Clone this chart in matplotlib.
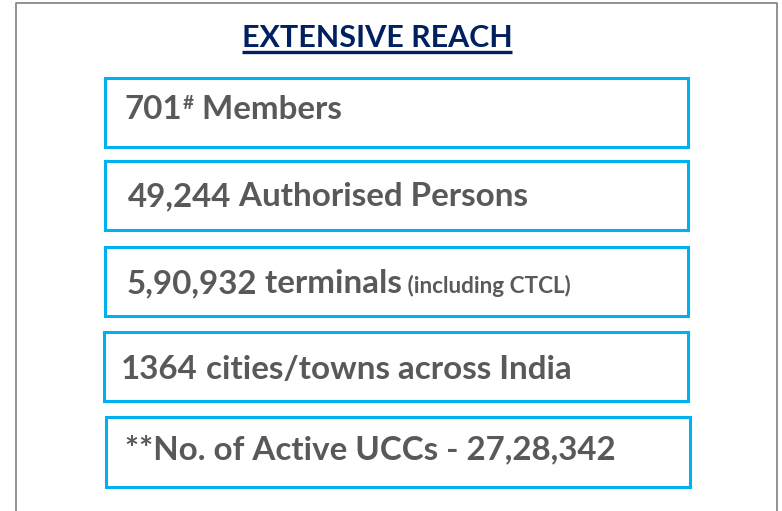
import matplotlib
matplotlib.use("Agg")
from matplotlib import pyplot as plt
from matplotlib.patches import Rectangle
from matplotlib import font_manager as fm

# panel content
title = "EXTENSIVE REACH"
figures = ["701", "49,244", "5,90,932", "1364", "**No. of Active UCCs - 27,28,342"]
marks = ["#", "", "", "", ""]
labels = [" Members", " Authorised Persons", " terminals", " cities/towns across India", ""]
notes = ["", "", " (including CTCL)", "", ""]

W, H = 782, 511
navy = "#002060"
blue = "#00B0F0"
grey = "#595959"

font = "DejaVu Sans"
for name in ["Liberation Sans Narrow", "Lato", "Open Sans"]:
    try:
        fm.findfont(fm.FontProperties(family=name, weight="bold"), fallback_to_default=False)
        font = name
        break
    except Exception:
        pass

fig = plt.figure(figsize=(W / 100, H / 100), dpi=100)
ax = fig.add_axes([0, 0, 1, 1])
ax.set_xlim(0, W)
ax.set_ylim(H, 0)
ax.axis("off")
r = fig.canvas.get_renderer()


def width_of(s, size):
    t = ax.text(0, 0, s, fontsize=size, fontweight="bold", family=font)
    w = t.get_window_extent(r).width
    t.remove()
    return w


# pick sizes so the longest line and the title span what they do in the slide
body = 22 * 490 / width_of(figures[4], 22)
head = 22 * 270 / width_of(title, 22)
sup = body * 0.58
small = body * 0.68

# outer frame (no bottom edge visible)
ax.plot([16, 16, 777, 777], [H, 3, 3, H], c="#7f7f7f", lw=1.2)

t = ax.text(377, 47, title, color=navy, fontsize=head, fontweight="bold",
            family=font, ha="center", va="baseline")
bb = t.get_window_extent(r).transformed(ax.transData.inverted())
ax.plot([bb.x0, bb.x1], [52.5, 52.5], c=navy, lw=2.4, solid_capstyle="butt")

boxes = [(105, 78, 688, 147), (105, 161, 688, 230), (105, 247, 688, 316),
         (104, 332, 688, 401), (106, 417, 690, 487)]
text_x = [125, 128, 127, 121, 125]
base_y = [119, 206, 293, 379, 459]

for i, (x0, y0, x1, y1) in enumerate(boxes):
    ax.add_patch(Rectangle((x0, y0), x1 - x0, y1 - y0, fill=False, ec=blue, lw=2.2))
    x = text_x[i]
    parts = [(figures[i], body, 0), (marks[i], sup, -10), (labels[i], body, 0), (notes[i], small, 0)]
    for s, size, dy in parts:
        if not s:
            continue
        tt = ax.text(x, base_y[i] + dy, s, color=grey, fontsize=size, fontweight="bold",
                     family=font, ha="left", va="baseline")
        e = tt.get_window_extent(r).transformed(ax.transData.inverted())
        x = e.x1

plt.savefig("out.png", dpi=100)
